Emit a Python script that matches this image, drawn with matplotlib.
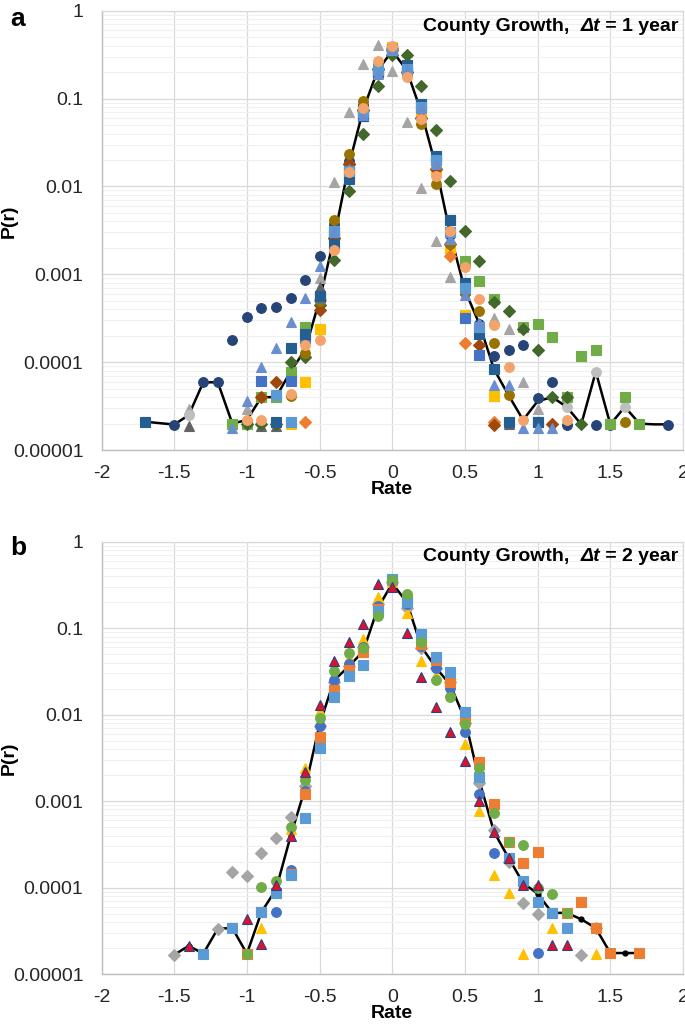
import numpy as np
import matplotlib
matplotlib.use('Agg')
import matplotlib.pyplot as plt
from matplotlib.ticker import FixedLocator, NullFormatter, LogLocator

plt.rcParams['font.family'] = ['Liberation Sans', 'DejaVu Sans']

# ---------------- panel a : county growth, dt = 1 year ----------------
avg1_r = [-1.7, -1.5, -1.4, -1.3, -1.2, -1.1, -1.0, -0.9, -0.8, -0.7, -0.6, -0.5, -0.4, -0.3, -0.2, -0.1,
          0.0, 0.1, 0.2, 0.3, 0.4, 0.5, 0.6, 0.7, 0.8, 0.9, 1.0, 1.1, 1.2, 1.3, 1.4, 1.5, 1.6, 1.7, 1.8, 1.9]
avg1_p = [2.1e-5, 1.95e-5, 2.5e-5, 5.9e-5, 5.9e-5, 2.0e-5, 2.2e-5, 4.0e-5, 4.0e-5, 7.8e-5, 1.38e-4, 5.1e-4,
          2.6e-3, 0.017, 0.075, 0.21, 0.35, 0.21, 0.07, 0.017, 0.0028, 6.6e-4, 2.7e-4, 8.3e-5, 4.2e-5, 2.2e-5,
          3.6e-5, 4.0e-5, 3.1e-5, 1.96e-5, 7.8e-5, 1.96e-5, 3.1e-5, 2.0e-5, 1.96e-5, 1.96e-5]

navy_r = [-1.5, -1.3, -1.2, -1.1, -1.0, -0.9, -0.8, -0.7, -0.6, -0.5, -0.4, -0.3, -0.2, -0.1, 0.0, 0.1, 0.2,
          0.3, 0.4, 0.5, 0.6, 0.7, 0.8, 0.9, 1.0, 1.1, 1.2, 1.4, 1.5, 1.9]
navy_p = [1.95e-5, 5.9e-5, 5.9e-5, 1.77e-4, 3.3e-4, 4.1e-4, 4.3e-4, 5.4e-4, 8.6e-4, 1.6e-3, 3.7e-3, 0.0195,
          0.085, 0.22, 0.37, 0.2, 0.062, 0.019, 0.0028, 6.5e-4, 2.7e-4, 1.18e-4, 1.38e-4, 1.58e-4, 3.9e-5,
          5.9e-5, 1.95e-5, 1.95e-5, 1.95e-5, 1.95e-5]

gray_r = [-1.4, -1.0, -0.5, -0.4, -0.3, -0.2, -0.1, 0.0, 0.1, 0.2, 0.3, 0.4, 0.7, 0.8, 0.9, 1.0]
gray_p = [2.9e-5, 2.9e-5, 9.2e-4, 0.0113, 0.071, 0.245, 0.41, 0.206, 0.054, 0.0095, 0.0024, 9.4e-4,
          3.2e-4, 2.4e-4, 5.9e-5, 2.9e-5]

dgray_r = [-1.4, -0.9, -0.8, -0.5, -0.4, -0.3, -0.2, -0.1, 0.0, 0.1, 0.2, 0.3, 0.4, 0.5, 0.7, 0.8]
dgray_p = [1.9e-5, 1.9e-5, 1.9e-5, 7.2e-4, 3.0e-3, 0.019, 0.08, 0.22, 0.36, 0.21, 0.065, 0.017, 0.0025,
           6.6e-4, 4.1e-5, 2.0e-5]

blue_r = [-0.9, -0.7, -0.6, -0.5, -0.4, -0.3, -0.2, -0.1, 0.0, 0.1, 0.2, 0.3, 0.4, 0.5, 0.6, 1.0]
blue_p = [6.1e-5, 6.1e-5, 1.9e-4, 5.5e-4, 3.0e-3, 0.014, 0.063, 0.2, 0.36, 0.22, 0.085, 0.02, 0.003,
          3.2e-4, 1.21e-4, 2.1e-5]

dblue_r = [-1.7, -0.8, -0.7, -0.6, -0.5, -0.4, -0.3, -0.2, -0.1, 0.0, 0.1, 0.2, 0.3, 0.4, 0.5, 0.6, 0.7,
           0.8, 1.0]
dblue_p = [2.1e-5, 2.1e-5, 1.46e-4, 2.1e-4, 5.7e-4, 2.2e-3, 0.0123, 0.063, 0.2, 0.37, 0.24, 0.086, 0.022,
           0.0042, 7.9e-4, 2.1e-4, 8.3e-5, 2.1e-5, 2.1e-5]

ltri_r = [-1.1, -1.0, -0.9, -0.8, -0.7, -0.6, -0.5, -0.4, -0.3, -0.2, -0.1, 0.0, 0.1, 0.2, 0.3, 0.4, 0.5,
          0.6, 0.7, 0.8, 0.9, 1.0, 1.1]
ltri_p = [1.8e-5, 3.6e-5, 8.9e-5, 1.44e-4, 2.9e-4, 5.4e-4, 1.25e-3, 3.0e-3, 0.016, 0.065, 0.19, 0.37,
          0.21, 0.078, 0.018, 0.0025, 5.8e-4, 2.8e-4, 5.5e-5, 5.5e-5, 1.8e-5, 1.8e-5, 1.8e-5]

lsq_r = [-0.8, -0.7, -0.4, -0.3, -0.2, -0.1, 0.0, 0.1, 0.2, 0.3, 0.4, 0.5, 0.6]
lsq_p = [4.2e-5, 2.1e-5, 3.1e-3, 0.015, 0.07, 0.21, 0.36, 0.22, 0.08, 0.02, 0.003, 7.0e-4, 2.5e-4]

green_r = [-1.1, -1.0, -0.9, -0.8, -0.7, -0.6, -0.5, -0.4, -0.3, -0.2, -0.1, 0.0, 0.1, 0.2, 0.3, 0.4,
           0.5, 0.6, 0.7, 0.9, 1.0, 1.1, 1.2, 1.3, 1.4, 1.5, 1.6, 1.7]
green_p = [2.0e-5, 1.96e-5, 4.0e-5, 4.0e-5, 7.8e-5, 2.5e-4, 5.5e-4, 2.8e-3, 0.016, 0.07, 0.2, 0.36, 0.2,
           0.07, 0.021, 0.0042, 1.42e-3, 8.5e-4, 5.3e-4, 2.54e-4, 2.7e-4, 1.95e-4, 4.0e-5, 1.18e-4,
           1.38e-4, 1.96e-5, 4.0e-5, 1.96e-5]

dgreen_r = [-1.0, -0.9, -0.8, -0.7, -0.6, -0.5, -0.4, -0.3, -0.2, -0.1, 0.0, 0.1, 0.2, 0.3, 0.4, 0.5,
            0.6, 0.7, 0.8, 0.9, 1.0, 1.1, 1.2, 1.3]
dgreen_p = [1.96e-5, 1.96e-5, 1.96e-5, 1.0e-4, 1.16e-4, 4.5e-4, 1.45e-3, 0.0089, 0.040, 0.139, 0.31, 0.31,
            0.139, 0.044, 0.0115, 0.0031, 1.42e-3, 4.9e-4, 3.8e-4, 2.37e-4, 1.38e-4, 4.0e-5, 4.0e-5,
            1.96e-5]

orange_r = [-0.6, -0.5, -0.4, -0.3, -0.2, -0.1, 0.0, 0.1, 0.2, 0.3, 0.4, 0.5, 0.7]
orange_p = [2.1e-5, 5.1e-4, 2.6e-3, 0.018, 0.075, 0.22, 0.38, 0.2, 0.06, 0.016, 1.6e-3, 1.64e-4, 2.1e-5]

dorange_r = [-0.9, -0.8, -0.5, -0.4, -0.3, -0.2, -0.1, 0.0, 0.1, 0.2, 0.3, 0.4, 0.6, 0.7, 1.1]
dorange_p = [4.0e-5, 5.9e-5, 3.9e-4, 2.6e-3, 0.018, 0.075, 0.22, 0.36, 0.2, 0.06, 0.016, 2.2e-3, 1.58e-4,
             1.95e-5, 1.98e-5]

olive_r = [-0.7, -0.6, -0.5, -0.4, -0.3, -0.2, -0.1, 0.0, 0.1, 0.2, 0.3, 0.4, 0.5, 0.6, 0.7, 0.8, 1.6]
olive_p = [4.1e-5, 1.27e-4, 5.0e-4, 4.1e-3, 0.0234, 0.095, 0.24, 0.38, 0.2, 0.051, 0.0106, 2.2e-3, 6.1e-4,
           3.8e-4, 1.65e-4, 4.2e-5, 2.1e-5]

peach_r = [-1.0, -0.9, -0.7, -0.6, -0.5, -0.4, -0.3, -0.2, -0.1, 0.0, 0.1, 0.2, 0.3, 0.4, 0.5, 0.6, 0.7,
           0.8, 0.9, 1.2]
peach_p = [2.2e-5, 2.2e-5, 4.4e-5, 1.58e-4, 1.8e-4, 1.9e-3, 0.0148, 0.078, 0.27, 0.40, 0.177, 0.058, 0.013,
           3.1e-3, 1.22e-3, 5.3e-4, 2.65e-4, 8.9e-5, 2.2e-5, 2.2e-5]

yellow_r = [-0.7, -0.6, -0.5, -0.4, -0.3, -0.2, -0.1, 0.0, 0.1, 0.2, 0.3, 0.4, 0.5, 0.7]
yellow_p = [2.0e-5, 6.0e-5, 2.4e-4, 2.8e-3, 0.016, 0.07, 0.21, 0.39, 0.21, 0.065, 0.016, 2.0e-3, 3.4e-4,
            4.1e-5]

lgray_r = [-1.4, 1.2, 1.4, 1.6]
lgray_p = [2.5e-5, 3.1e-5, 7.8e-5, 3.1e-5]

# ---------------- panel b : county growth, dt = 2 year ----------------
avg2_r = [-1.5, -1.4, -1.3, -1.2, -1.1, -1.0, -0.9, -0.8, -0.7, -0.6, -0.5, -0.4, -0.3, -0.2, -0.1, 0.0,
          0.1, 0.2, 0.3, 0.4, 0.5, 0.6, 0.7, 0.8, 0.9, 1.0, 1.1, 1.2, 1.3, 1.4, 1.5, 1.6, 1.7]
avg2_p = [1.67e-5, 2.12e-5, 1.72e-5, 3.35e-5, 3.4e-5, 1.72e-5, 5.2e-5, 9.5e-5, 3.9e-4, 1.4e-3, 0.0077,
          0.025, 0.036, 0.054, 0.17, 0.33, 0.2, 0.061, 0.035, 0.022, 0.0088, 1.7e-3, 4.4e-4, 2.2e-4,
          1.13e-4, 8.5e-5, 5.1e-5, 5.1e-5, 4.3e-5, 3.4e-5, 1.75e-5, 1.75e-5, 1.75e-5]

b_blue_r = [-0.8, -0.7, -0.6, -0.5, -0.4, -0.3, -0.2, -0.1, 0.0, 0.1, 0.2, 0.3, 0.4, 0.5, 0.6, 0.7, 0.9,
            1.0]
b_blue_p = [5.2e-5, 1.6e-4, 1.3e-3, 0.0073, 0.025, 0.039, 0.061, 0.18, 0.35, 0.19, 0.063, 0.035, 0.0206,
            0.0063, 1.2e-3, 2.5e-4, 1.1e-4, 1.75e-5]

b_orange_r = [-1.0, -0.9, -0.7, -0.6, -0.5, -0.4, -0.3, -0.2, -0.1, 0.0, 0.1, 0.2, 0.3, 0.4, 0.5, 0.6,
              0.7, 0.8, 0.9, 1.0, 1.1, 1.2, 1.3, 1.4, 1.5, 1.7]
b_orange_p = [1.72e-5, 5.2e-5, 1.45e-4, 1.2e-3, 0.0055, 0.0195, 0.033, 0.053, 0.167, 0.36, 0.22, 0.065,
              0.043, 0.024, 0.009, 2.8e-3, 9.3e-4, 3.4e-4, 1.93e-4, 2.6e-4, 5.1e-5, 5.1e-5, 6.9e-5,
              3.4e-5, 1.75e-5, 1.75e-5]

b_yellow_r = [-0.9, -0.7, -0.6, -0.5, -0.4, -0.3, -0.2, -0.1, 0.0, 0.1, 0.2, 0.3, 0.4, 0.5, 0.6, 0.7,
              0.8, 0.9, 1.1, 1.4]
b_yellow_p = [3.4e-5, 4.8e-4, 2.4e-3, 0.011, 0.028, 0.045, 0.075, 0.23, 0.34, 0.15, 0.042, 0.029, 0.019,
              0.0046, 7.7e-4, 1.38e-4, 8.7e-5, 1.72e-5, 3.4e-5, 1.72e-5]

b_green_r = [-1.0, -0.9, -0.8, -0.7, -0.6, -0.5, -0.4, -0.3, -0.2, -0.1, 0.0, 0.1, 0.2, 0.3, 0.4, 0.5,
             0.6, 0.7, 0.8, 0.9, 1.0, 1.1, 1.2]
b_green_p = [1.72e-5, 1.02e-4, 1.18e-4, 5.0e-4, 1.74e-3, 0.0092, 0.032, 0.051, 0.059, 0.139, 0.36, 0.247,
             0.070, 0.025, 0.016, 0.0077, 2.4e-3, 7.3e-4, 3.4e-4, 3.07e-4, 1.0e-4, 8.5e-5, 5.1e-5]

b_lblue_r = [-1.3, -1.1, -0.9, -0.8, -0.7, -0.6, -0.5, -0.4, -0.3, -0.2, -0.1, 0.0, 0.1, 0.2, 0.3, 0.4,
             0.5, 0.6, 0.8, 0.9, 1.0, 1.1, 1.2]
b_lblue_p = [1.72e-5, 3.4e-5, 5.2e-5, 8.7e-5, 1.38e-4, 6.4e-4, 0.0041, 0.016, 0.028, 0.038, 0.16, 0.367,
             0.2, 0.085, 0.046, 0.031, 0.0106, 1.9e-3, 2.2e-4, 1.2e-4, 6.9e-5, 5.1e-5, 3.4e-5]

b_red_r = [-1.4, -1.0, -0.9, -0.8, -0.7, -0.6, -0.5, -0.4, -0.3, -0.2, -0.1, 0.0, 0.1, 0.2, 0.3, 0.4,
           0.5, 0.6, 0.7, 0.8, 0.9, 1.0, 1.1, 1.2]
b_red_p = [2.12e-5, 4.3e-5, 2.2e-5, 1.08e-4, 3.9e-4, 2.2e-3, 0.013, 0.042, 0.070, 0.112, 0.325, 0.30,
           0.088, 0.027, 0.0123, 0.0063, 0.0029, 1.0e-3, 4.4e-4, 2.2e-4, 1.08e-4, 1.08e-4, 2.15e-5,
           2.15e-5]

b_gray_r = [-1.5, -1.2, -1.1, -1.0, -0.9, -0.8, -0.7, -0.6, -0.5, -0.4, -0.3, -0.2, -0.1, 0.0, 0.1, 0.2,
            0.3, 0.4, 0.5, 0.6, 0.7, 0.8, 0.9, 1.0, 1.3, 1.4]
b_gray_p = [1.67e-5, 3.35e-5, 1.51e-4, 1.35e-4, 2.5e-4, 3.7e-4, 6.6e-4, 1.5e-3, 0.0073, 0.024, 0.037,
            0.06, 0.19, 0.34, 0.17, 0.059, 0.035, 0.024, 0.008, 1.6e-3, 4.6e-4, 2.0e-4, 6.6e-5, 5.0e-5,
            1.67e-5, 3.4e-5]

x_ticks = [-2, -1.5, -1, -0.5, 0, 0.5, 1, 1.5, 2]
x_labels = ['-2', '-1.5', '-1', '-0.5', '0', '0.5', '1', '1.5', '2']
y_ticks = [1e-5, 1e-4, 1e-3, 1e-2, 1e-1, 1]
y_labels = ['0.00001', '0.0001', '0.001', '0.01', '0.1', '1']

# (rates, probs, face colour, marker, edge colour)
series_a = [
    (navy_r, navy_p, '#264478', 'o', '#264478'),
    (gray_r, gray_p, '#A5A5A5', '^', '#A5A5A5'),
    (dgray_r, dgray_p, '#636363', '^', '#636363'),
    (lgray_r, lgray_p, '#BFBFBF', 'o', '#BFBFBF'),
    (green_r, green_p, '#70AD47', 's', '#70AD47'),
    (dgreen_r, dgreen_p, '#43682B', 'D', '#43682B'),
    (yellow_r, yellow_p, '#FFC000', 's', '#FFC000'),
    (orange_r, orange_p, '#ED7D31', 'D', '#ED7D31'),
    (dorange_r, dorange_p, '#9E480E', 'D', '#9E480E'),
    (olive_r, olive_p, '#997300', 'o', '#997300'),
    (blue_r, blue_p, '#4472C4', 's', '#4472C4'),
    (dblue_r, dblue_p, '#255E91', 's', '#255E91'),
    (lsq_r, lsq_p, '#5B9BD5', 's', '#5B9BD5'),
    (ltri_r, ltri_p, '#698ED0', '^', '#698ED0'),
    (peach_r, peach_p, '#F4A46B', 'o', '#F4A46B'),
]
series_b = [
    (b_gray_r, b_gray_p, '#A5A5A5', 'D', '#A5A5A5'),
    (b_yellow_r, b_yellow_p, '#FFC000', '^', '#FFC000'),
    (b_blue_r, b_blue_p, '#4472C4', 'o', '#4472C4'),
    (b_orange_r, b_orange_p, '#ED7D31', 's', '#ED7D31'),
    (b_lblue_r, b_lblue_p, '#5B9BD5', 's', '#5B9BD5'),
    (b_green_r, b_green_p, '#70AD47', 'o', '#70AD47'),
    (b_red_r, b_red_p, '#E0102B', '^', '#2F3F7F'),
]

fig = plt.figure(figsize=(6.85, 10.36), dpi=100)
ax_a = fig.add_axes([0.1482, 0.5656, 0.8489, 0.4240])
ax_b = fig.add_axes([0.1482, 0.0598, 0.8489, 0.4173])


def style_axes(ax, title, letter, ylab_y, letter_y):
    ax.set_yscale('log')
    ax.set_xlim(-2, 2)
    ax.set_ylim(1e-5, 1)
    ax.xaxis.set_major_locator(FixedLocator(x_ticks))
    ax.set_xticklabels(x_labels)
    ax.yaxis.set_major_locator(FixedLocator(y_ticks))
    ax.set_yticklabels(y_labels)
    ax.yaxis.set_minor_locator(LogLocator(base=10, subs=np.arange(2, 10)))
    ax.yaxis.set_minor_formatter(NullFormatter())
    ax.tick_params(axis='both', which='both', length=0, labelsize=14, colors='#262626')
    ax.tick_params(axis='x', pad=11)
    ax.tick_params(axis='y', pad=13)
    ax.grid(True, which='major', color='#D9D9D9', lw=0.9)
    ax.grid(True, which='minor', axis='y', color='#F0F0F0', lw=0.8)
    ax.set_axisbelow(True)
    for side in ['top', 'right']:
        ax.spines[side].set_color('#D9D9D9')
        ax.spines[side].set_linewidth(0.9)
    for side in ['left', 'bottom']:
        ax.spines[side].set_color('#BFBFBF')
        ax.spines[side].set_linewidth(1.0)
    ax.set_xlabel('Rate', fontsize=14, fontweight='bold', labelpad=-1)
    # y label drawn as a rotated text so it sits fully inside the figure
    ax.text(-0.158, ylab_y, 'P(r)', transform=ax.transAxes, rotation=90, ha='center', va='center',
            fontsize=14, fontweight='bold')

    # title:  "County Growth,  Δt = 1 year" with italic Δt
    t3 = ax.text(0.992, 0.965, ' = ' + title, transform=ax.transAxes, ha='right', va='center',
                 fontsize=14, fontweight='bold')
    t2 = ax.annotate('\u0394t', xy=(0, 0), xycoords=t3, ha='right', va='bottom',
                     fontsize=14, fontweight='bold', style='italic')
    ax.annotate('County Growth,  ', xy=(0, 0), xycoords=t2, ha='right', va='bottom',
                fontsize=14, fontweight='bold')
    ax.text(-0.157, letter_y, letter, transform=ax.transAxes, ha='left', va='center',
            fontsize=19, fontweight='bold')


style_axes(ax_a, '1 year', 'a', 0.52, 0.982)
style_axes(ax_b, '2 year', 'b', 0.50, 0.985)

ax_a.plot(avg1_r, avg1_p, color='black', lw=1.8, zorder=2)
for r, p, fc, mk, ec in series_a:
    ms = 7 if mk != 'D' else 6
    ax_a.plot(r, p, linestyle='none', marker=mk, ms=ms, mfc=fc, mec=ec, mew=0.8, zorder=3)

ax_b.plot(avg2_r, avg2_p, color='black', lw=1.8, marker='o', ms=3.5, zorder=2)
for r, p, fc, mk, ec in series_b:
    ms = 7 if mk != 'D' else 6
    ax_b.plot(r, p, linestyle='none', marker=mk, ms=ms, mfc=fc, mec=ec, mew=0.8, zorder=3)

fig.savefig('out.png', dpi=100)
